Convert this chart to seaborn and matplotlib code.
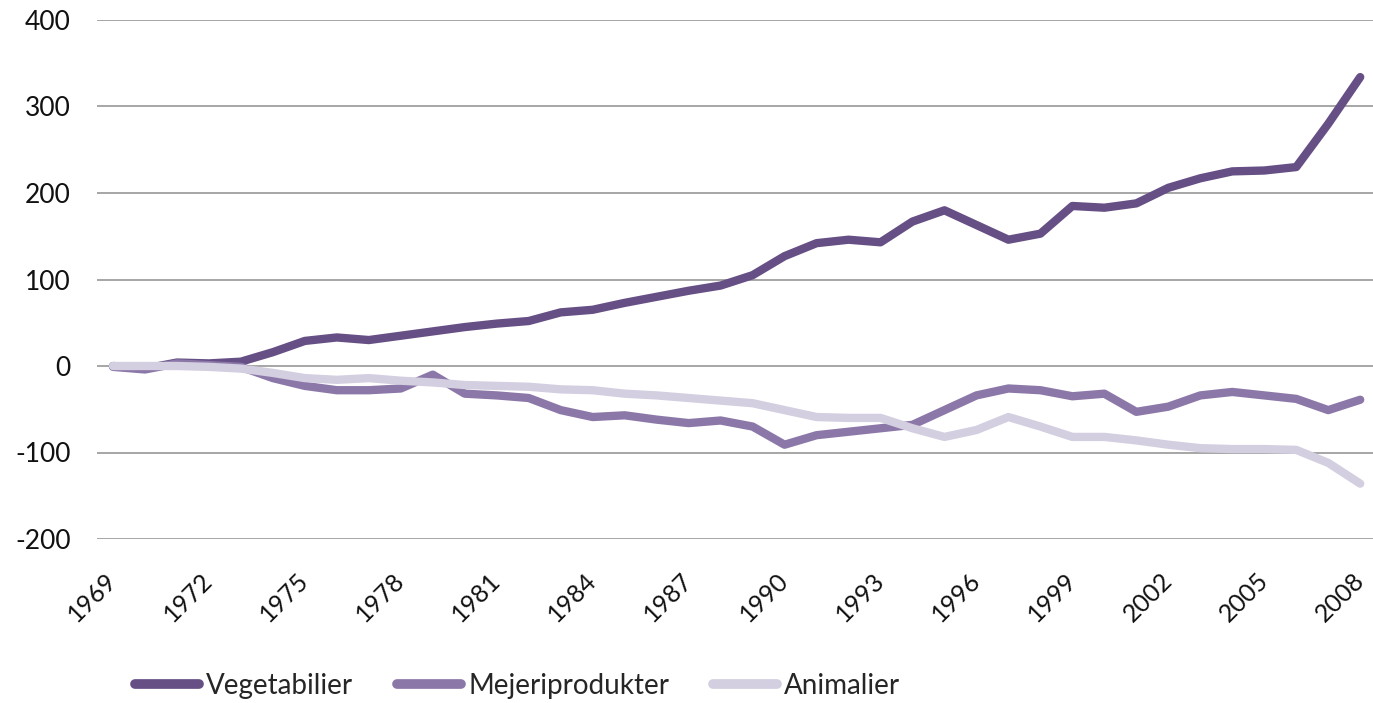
import pandas as pd
import matplotlib
matplotlib.use('Agg')
import matplotlib.pyplot as plt
import seaborn as sns

# 데이터
years = list(range(1969, 2009))
vegetabilier = [0, -3, 4, 3, 5, 16, 29, 33, 30, 35, 40, 45, 49, 52, 62, 65, 73, 80, 87, 93,
                105, 127, 142, 146, 143, 167, 180, 163, 146, 153, 185, 183, 188, 206, 217, 225,
                226, 230, 280, 334]
mejeriprodukter = [-1, -4, 3, 1, -1, -14, -23, -28, -28, -26, -10, -32, -34, -37, -51, -59, -57,
                   -62, -66, -63, -70, -91, -80, -76, -72, -68, -51, -34, -26, -28, -35, -32,
                   -53, -47, -34, -30, -34, -38, -51, -39]
animalier = [0, 0, 0, -1, -3, -8, -14, -16, -14, -17, -19, -22, -23, -24, -27, -28, -32, -34,
             -37, -40, -43, -51, -59, -60, -60, -72, -82, -74, -59, -70, -82, -82, -86, -91,
             -95, -96, -96, -97, -112, -136]
series_names = ['Vegetabilier', 'Mejeriprodukter', 'Animalier']
colors = ['#664F84', '#8C78A8', '#D3CEE0']

df = pd.DataFrame({'År': years, 'Vegetabilier': vegetabilier,
                   'Mejeriprodukter': mejeriprodukter, 'Animalier': animalier})
long_df = df.melt(id_vars='År', var_name='Serie', value_name='Värde')

sns.set_theme(style='white')
plt.rcParams['font.family'] = ['Lato', 'DejaVu Sans']
plt.rcParams['axes.unicode_minus'] = False

fig = plt.figure(figsize=(13.73, 7.03), dpi=100)
ax = fig.add_axes([97 / 1373, 1 - 539 / 703, 1 - 97 / 1373, (539 - 20) / 703])

sns.lineplot(data=long_df, x='År', y='Värde', hue='Serie', hue_order=series_names,
             palette=colors, linewidth=6, ax=ax, solid_capstyle='round')

ax.set_ylim(-200, 400)
ax.set_yticks(range(-200, 401, 100))
ax.set_xlim(1968.5, 2008.4)
ax.set_xticks(years[::3])
ax.set_xticklabels([str(y) for y in years[::3]], rotation=45, ha='right', va='center',
                   rotation_mode='anchor')
ax.tick_params(axis='y', labelsize=19, length=0, colors='#111111', pad=19)
ax.tick_params(axis='x', labelsize=18, length=0, colors='#111111', pad=27)
ax.grid(axis='y', color='#A6A6A6', linewidth=1.4)
ax.set_axisbelow(True)
sns.despine(ax=ax, left=True, bottom=True)
ax.set_xlabel('')
ax.set_ylabel('')

leg = ax.legend(loc='center', bbox_to_anchor=(0.377, 0.024), bbox_transform=fig.transFigure,
                ncol=3, frameon=False, fontsize=20, handlelength=2.3, handletextpad=0.25,
                columnspacing=1.6)
for line in leg.get_lines():
    line.set_linewidth(7)
    line.set_solid_capstyle('round')

fig.savefig('out.png', dpi=100)
